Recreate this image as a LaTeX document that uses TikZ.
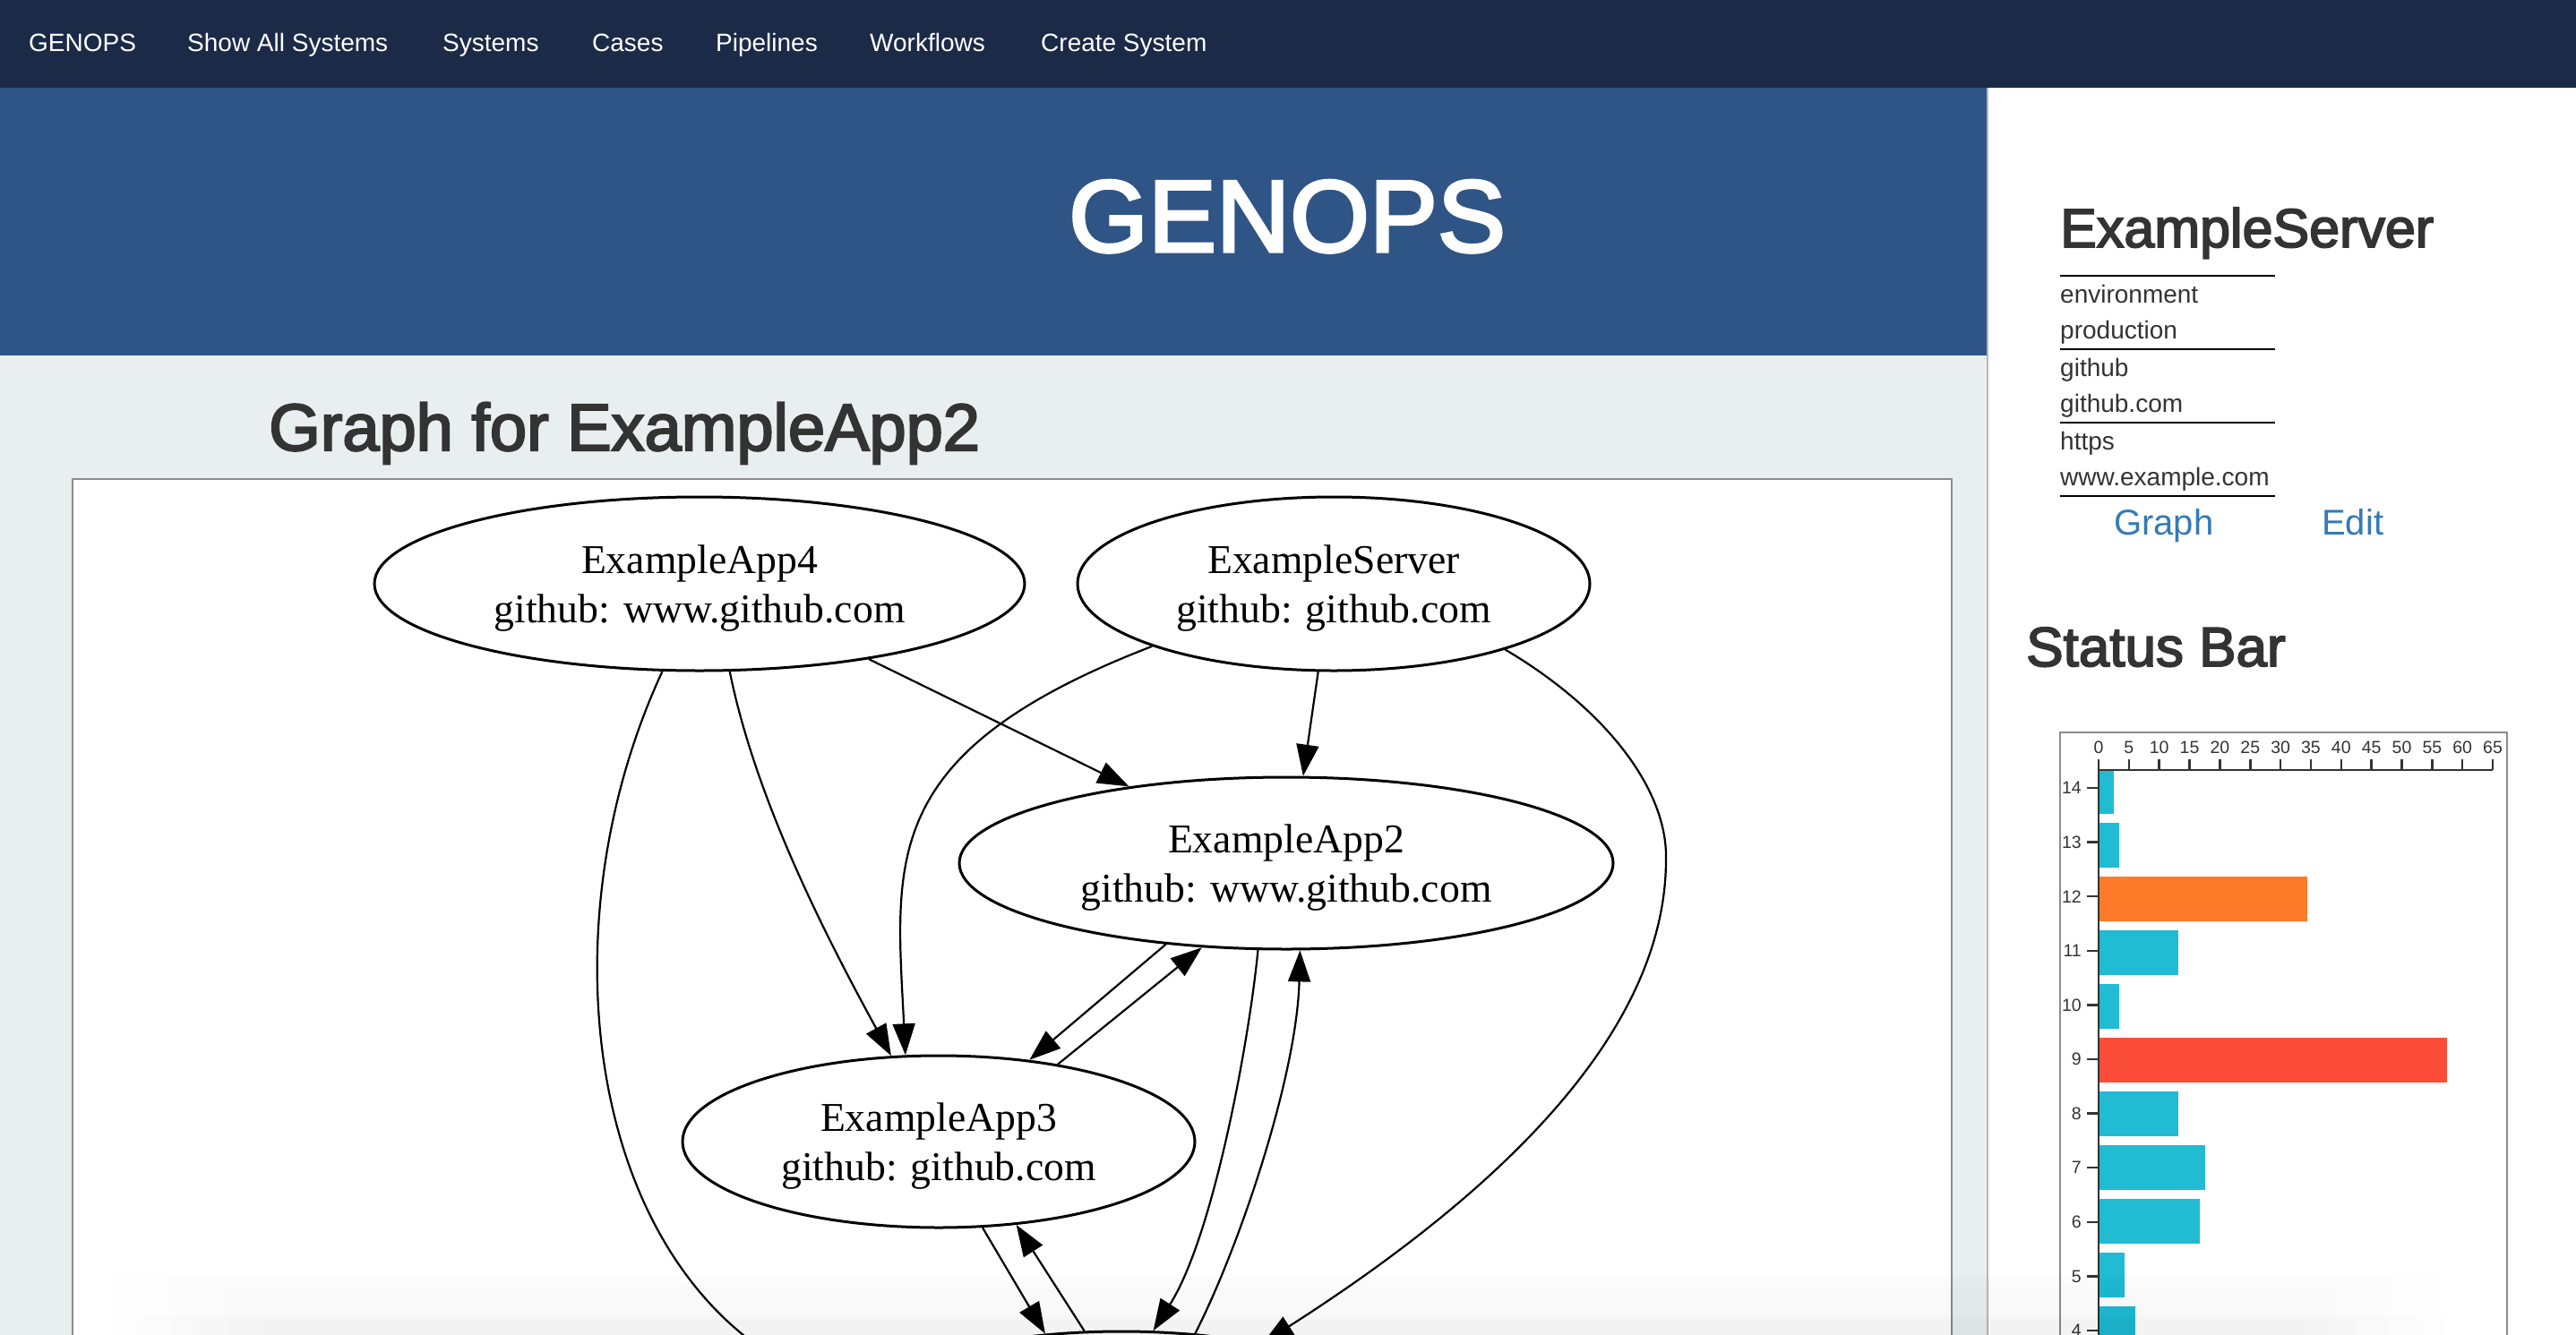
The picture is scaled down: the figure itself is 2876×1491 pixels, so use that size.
\documentclass[tikz,border=0pt]{standalone}
\usepackage{fontspec}
\setmainfont{Liberation Serif}
\newfontfamily\lsans{Liberation Sans}
\newfontfamily\lmed{Liberation Sans}[FakeBold=3]
\usetikzlibrary{arrows.meta,shapes.geometric,fadings}
\definecolor{navbg}{HTML}{1B2A47}
\definecolor{headbg}{HTML}{2F5486}
\definecolor{pagebg}{HTML}{E9EEF1}
\definecolor{boxline}{HTML}{8C8C8C}
\definecolor{sideline}{HTML}{B8B8B8}
\definecolor{txt}{HTML}{333333}
\definecolor{linkc}{HTML}{337AB7}
\definecolor{barcyan}{HTML}{21BBD3}
\definecolor{barorange}{HTML}{FD7B28}
\definecolor{barred}{HTML}{FC4C3A}
\begin{document}
\begin{tikzpicture}[x=1pt,y=-1pt,
  navitem/.style={anchor=base west, inner sep=0pt, text=white, font=\lsans\fontsize{28}{32}\selectfont},
  gnode/.style={ellipse, draw=black, line width=3pt, fill=white, inner sep=0pt, align=center, font=\fontsize{45.7}{55}\selectfont},
  gedge/.style={line width=2.2pt, -{Triangle[length=35pt,width=25pt]}},
  rowtext/.style={anchor=base west, inner sep=0pt, text=txt, font=\lsans\fontsize{28}{32}\selectfont},
  rulestyle/.style={line width=2.5pt, black},
  linktext/.style={anchor=base west, inner sep=0pt, text=linkc, font=\lsans\fontsize{40}{44}\selectfont},
  axisln/.style={line width=2.5pt, txt},
  xlab/.style={anchor=base, inner sep=0pt, text=txt, font=\lsans\fontsize{19.5}{22}\selectfont},
  ylab/.style={anchor=east, inner sep=0pt, text=txt, font=\lsans\fontsize{19.5}{22}\selectfont}
]
\useasboundingbox (0,0) rectangle (2876,1491);
\clip (0,0) rectangle (2876,1491);

% backgrounds
\fill[pagebg] (0,0) rectangle (2219,1491);
\fill[white] (2219,98) rectangle (2876,1491);
\draw[sideline, line width=2pt] (2219,98) -- (2219,1491);
\fill[headbg] (0,97) rectangle (2218,397);
\fill[navbg] (0,0) rectangle (2876,98);

% navbar
\node[navitem] (nav1) at (32,57) {GENOPS};
\node[navitem] (nav2) at (209,57) {Show All Systems};
\node[navitem] (nav3) at (494,57) {Systems};
\node[navitem] (nav4) at (661,57) {Cases};
\node[navitem] (nav5) at (799,57) {Pipelines};
\node[navitem] (nav6) at (971,57) {Workflows};
\node[navitem] (nav7) at (1162,57) {Create System};

% header
\node[anchor=base west, inner sep=0pt, text=white, font=\lmed\fontsize{114}{120}\selectfont] (hdr) at (1193,281) {GENOPS};
\node[anchor=base west, inner sep=0pt, text=txt, font=\lmed\fontsize{74}{80}\selectfont] (gtitle) at (300,503) {Graph for ExampleApp2};

% graph box
\filldraw[fill=white, draw=boxline, line width=2pt] (81,535) rectangle (2179,1560);

% graph nodes
\node[gnode, minimum width=726pt, minimum height=194pt] (A4) at (781,652) {\rule{0pt}{41pt}ExampleApp4\\github: www.github.com};
\node[gnode, minimum width=572pt, minimum height=194pt] (ES) at (1489,652) {\rule{0pt}{41pt}ExampleServer\\github: github.com};
\node[gnode, minimum width=730pt, minimum height=192pt] (A2) at (1436,964) {\rule{0pt}{41pt}ExampleApp2\\github: www.github.com};
\node[gnode, minimum width=572pt, minimum height=192pt] (A3) at (1048,1275) {\rule{0pt}{41pt}ExampleApp3\\github: github.com};
\node[gnode, minimum width=600pt, minimum height=194pt] (B) at (1252,1584) {};

% graph edges
\draw[gedge] (A4.-24.7) -- (A2.154);
\draw[gedge] (ES.-100.4) -- (A2.79.7);
\draw[gedge] (A4.-71.1) .. controls (845,900) and (930,1060) .. (A3.119);
\draw[gedge] (ES.199) .. controls (980,840) and (1000,960) .. (A3.111.4);
\draw[gedge] (A2.-146.8) -- (A3.42.7);
\draw[gedge] (A3.33.3) -- (A2.-135.7);
\draw[gedge] (A2.-108.5) .. controls (1395,1160) and (1355,1380) .. (B.70.6);
\draw[gedge] (B.49.1) .. controls (1385,1390) and (1448,1200) .. (A2.-81.1);
\draw[gedge] (A3.-63.4) -- (B.132);
\draw[gedge] (B.113.6) -- (A3.-47.6);
\draw[gedge] (A4.-113.6) .. controls (600,1050) and (660,1450) .. (B.175);
\coordinate (e12m) at (1860,960);
\draw[gedge] (ES.-21.1) .. controls (1790,790) and (1862,880) .. (e12m) .. controls (1860,1160) and (1660,1340) .. (B.28.6);

% sidebar
\node[anchor=base west, inner sep=0pt, text=txt, font=\lmed\fontsize{61}{66}\selectfont] (stitle) at (2300,276) {ExampleServer};
\draw[rulestyle] (2300,308) -- (2540,308);
\node[rowtext] (r1) at (2300,338) {environment};
\node[rowtext] (r2) at (2300,378) {production};
\draw[rulestyle] (2300,390) -- (2540,390);
\node[rowtext] (r3) at (2300,420) {github};
\node[rowtext] (r4) at (2300,460) {github.com};
\draw[rulestyle] (2300,472) -- (2540,472);
\node[rowtext] (r5) at (2300,502) {https};
\node[rowtext] (r6) at (2300,542) {www.example.com};
\draw[rulestyle] (2300,554) -- (2540,554);
\node[linktext] (lgraph) at (2360,597) {Graph};
\node[linktext] (ledit) at (2592,597) {Edit};
\node[anchor=base west, inner sep=0pt, text=txt, font=\lmed\fontsize{62}{66}\selectfont] (sbar) at (2262,744) {Status Bar};

% chart
\draw[boxline, line width=2.5pt, fill=white] (2300,818) rectangle (2799,1560);
\foreach \k/\v/\c in {14/2.5/barcyan, 13/3.4/barcyan, 12/34.4/barorange, 11/13.1/barcyan, 10/3.4/barcyan, 9/57.5/barred, 8/13.1/barcyan, 7/17.6/barcyan, 6/16.7/barcyan, 5/4.3/barcyan, 4/6.1/barcyan} {
  \fill[\c] (2344,{max(861,859+(14-\k)*60)}) rectangle ({2343+6.77*\v},{859+(14-\k)*60+49.5});
}
\draw[axisln] (2343,860) -- (2783,860);
\foreach \v in {0,5,...,65} {
  \draw[axisln] ({2343+6.77*\v},860) -- ({2343+6.77*\v},848);
  \node[xlab] (xl\v) at ({2343+6.77*\v},841) {\v};
}
\draw[axisln] (2343,859) -- (2343,1560);
\foreach \k in {4,...,14} {
  \draw[axisln] (2330,{880+(14-\k)*60.6}) -- (2343,{880+(14-\k)*60.6});
  \node[ylab] (yl\k) at (2324,{880+(14-\k)*60.6}) {\k};
}

% bottom shadow, soft edged
\foreach \i in {0,...,5} {
  \fill[black, opacity=0.008, path fading=north] ({130+\i*32},{1400+\i*4}) rectangle ({2740-\i*32},1491);
}
\end{tikzpicture}
\end{document}
